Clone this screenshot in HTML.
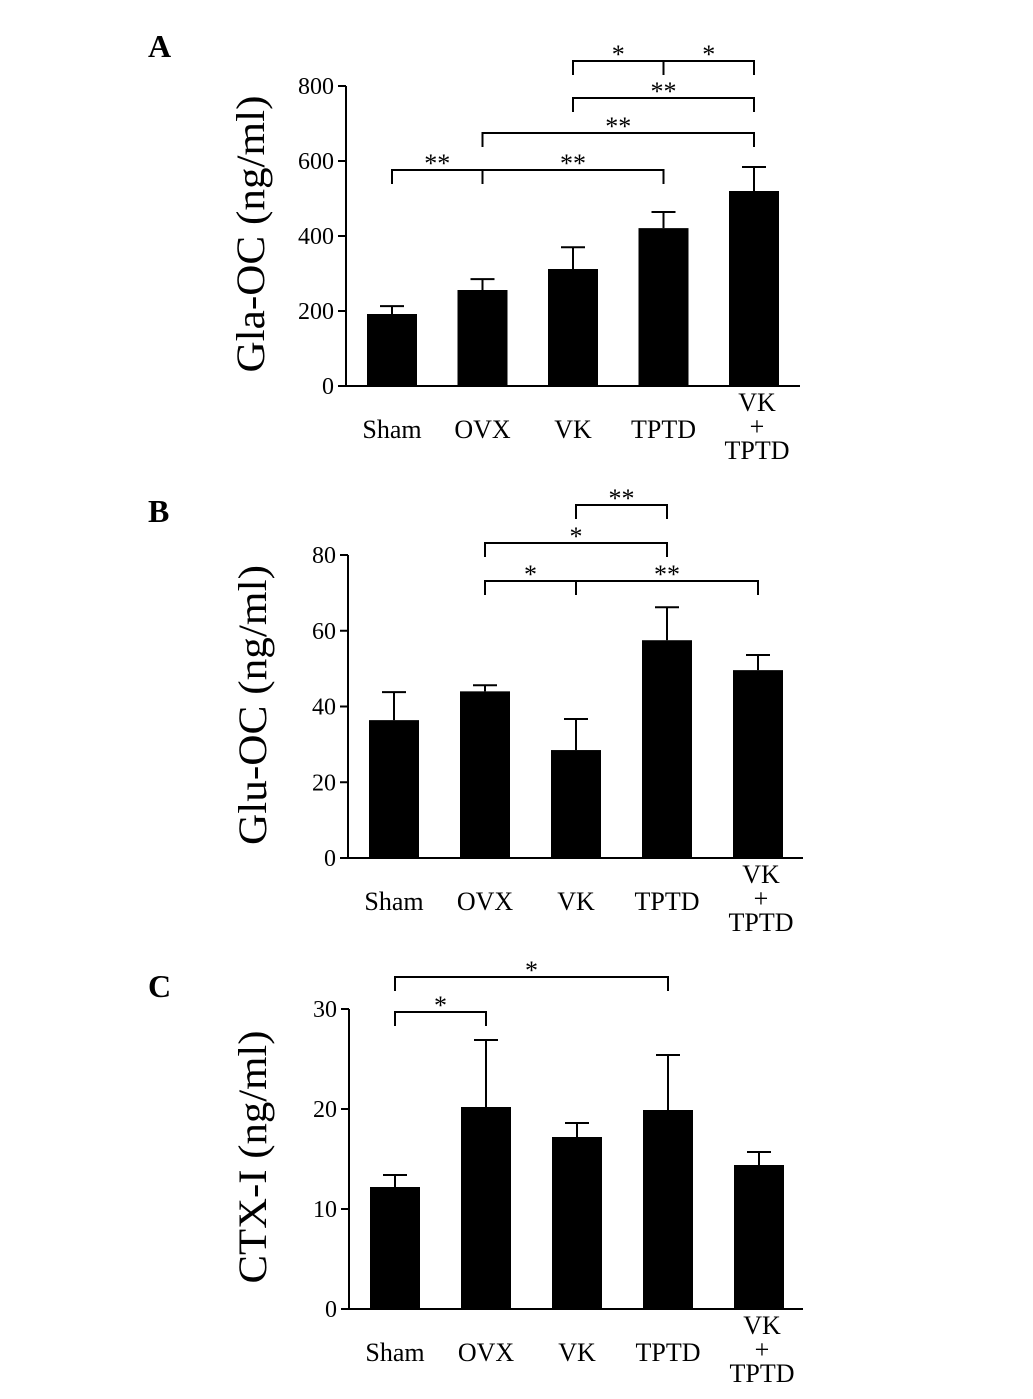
<!DOCTYPE html>
<html><head><meta charset="utf-8"><style>
body{margin:0;background:#fff;}
svg{display:block;font-family:"Liberation Serif",serif;}
</style></head><body>
<svg id="chart" width="1033" height="1399" viewBox="0 0 1033 1399"></svg>
<script>
const categories=["Sham","OVX","VK","TPTD","VK+TPTD"];
const glaValues=[192,256,312,421,520];
const glaErrors=[213,285,370,464,584];
const gluValues=[36.4,44,28.5,57.5,49.6];
const gluErrors=[43.8,45.6,36.7,66.2,53.6];
const ctxValues=[12.2,20.2,17.2,19.9,14.4];
const ctxErrors=[13.4,26.9,18.6,25.4,15.7];
const glaTicks=[0,200,400,600,800];
const gluTicks=[0,20,40,60,80];
const ctxTicks=[0,10,20,30];
const glaBrackets=[[0,1,"**"],[1,3,"**"],[1,4,"**"],[2,4,"**"],[2,3,"*"],[3,4,"*"]];
const gluBrackets=[[2,3,"**"],[1,3,"*"],[1,2,"*"],[2,4,"**"]];
const ctxBrackets=[[0,1,"*"],[0,3,"*"]];

const NS="http://www.w3.org/2000/svg";
const svg=document.getElementById("chart");
function mk(tag,attrs,parent){const e=document.createElementNS(NS,tag);for(const k in attrs)e.setAttribute(k,attrs[k]);(parent||svg).appendChild(e);return e;}

function panel(cfg){
  const g=mk("g",{});
  
  
  const yS=v=>cfg.y0-(v/cfg.max)*(cfg.y0-cfg.yTop);
  const xS=i=>cfg.x0+cfg.first+i*cfg.step;
  const L=mk("text",{x:cfg.letterX,y:cfg.letterY,"font-size":32,"font-weight":"bold"},g);L.textContent=cfg.letter;
  
  const ya=mk("line",{x1:cfg.x0,y1:cfg.y0,x2:cfg.x0,y2:cfg.yTop,stroke:"#000","stroke-width":2},g);
  
  const xa=mk("line",{x1:cfg.x0,y1:cfg.y0,x2:cfg.xEnd,y2:cfg.y0,stroke:"#000","stroke-width":2},g);
  
  cfg.ticks.forEach(t=>{
    const y=yS(t);
    mk("line",{x1:cfg.x0-8,y1:y,x2:cfg.x0,y2:y,stroke:"#000","stroke-width":2},g);
    const tx=mk("text",{x:cfg.x0-12,y:y+8,"font-size":24,"text-anchor":"end"},g);tx.textContent=t;
    
  });
  const yt=mk("text",{x:0,y:0,"font-size":40,"text-anchor":"middle",textLength:cfg.titleLen,lengthAdjust:"spacingAndGlyphs",transform:`translate(${cfg.titleX},${cfg.titleY}) rotate(-90)`},g);
  yt.textContent=cfg.title;
  categories.forEach((c,i)=>{
    const cx=xS(i),v=cfg.vals[i],e=cfg.errs[i];
    mk("line",{x1:cx,y1:yS(v),x2:cx,y2:yS(e),stroke:"#000","stroke-width":2},g);
    mk("line",{x1:cx-12,y1:yS(e),x2:cx+12,y2:yS(e),stroke:"#000","stroke-width":2},g);
    const b=mk("rect",{x:cx-25,y:yS(v),width:50,height:cfg.y0-yS(v),fill:"#000"},g);
    
    if(c==="VK+TPTD"){
      [["VK",0],["+",24],["TPTD",48]].forEach(([s,d])=>{const t=mk("text",{x:cx+3,y:cfg.y0+25+d,"font-size":26,"text-anchor":"middle"},g);t.textContent=s;
        });
    } else {
      const t=mk("text",{x:cx,y:cfg.y0+52,"font-size":26,"text-anchor":"middle"},g);t.textContent=c;
      
    }
  });
  cfg.brackets.forEach((br,k)=>{
    const [a,b,s]=br,y=cfg.bY[k];
    const x1=xS(a),x2=xS(b);
    mk("path",{d:`M${x1},${y+14}V${y}H${x2}V${y+14}`,fill:"none",stroke:"#000","stroke-width":2},g);
    const t=mk("text",{x:(x1+x2)/2,y:y+2,"font-size":26,"text-anchor":"middle"},g);t.textContent=s;
    
  });
}
panel({name:"panel-a-gla-oc",letter:"A",letterX:148,letterY:57,x0:346,y0:386,yTop:86,xEnd:800,max:800,first:46,step:90.5,
  ticks:glaTicks,vals:glaValues,errs:glaErrors,title:"Gla-OC (ng/ml)",titleX:264,titleY:234,titleLen:277,brackets:glaBrackets,bY:[170,170,133,98,61,61]});
panel({name:"panel-b-glu-oc",letter:"B",letterX:148,letterY:522,x0:348,y0:858,yTop:555,xEnd:803,max:80,first:46,step:91,
  ticks:gluTicks,vals:gluValues,errs:gluErrors,title:"Glu-OC (ng/ml)",titleX:266,titleY:705,titleLen:280,brackets:gluBrackets,bY:[505,543,581,581]});
panel({name:"panel-c-ctx-i",letter:"C",letterX:148,letterY:997,x0:349,y0:1309,yTop:1009,xEnd:803,max:30,first:46,step:91,
  ticks:ctxTicks,vals:ctxValues,errs:ctxErrors,title:"CTX-I (ng/ml)",titleX:266,titleY:1157,titleLen:253,brackets:ctxBrackets,bY:[1012,977]});
</script>
</body></html>
